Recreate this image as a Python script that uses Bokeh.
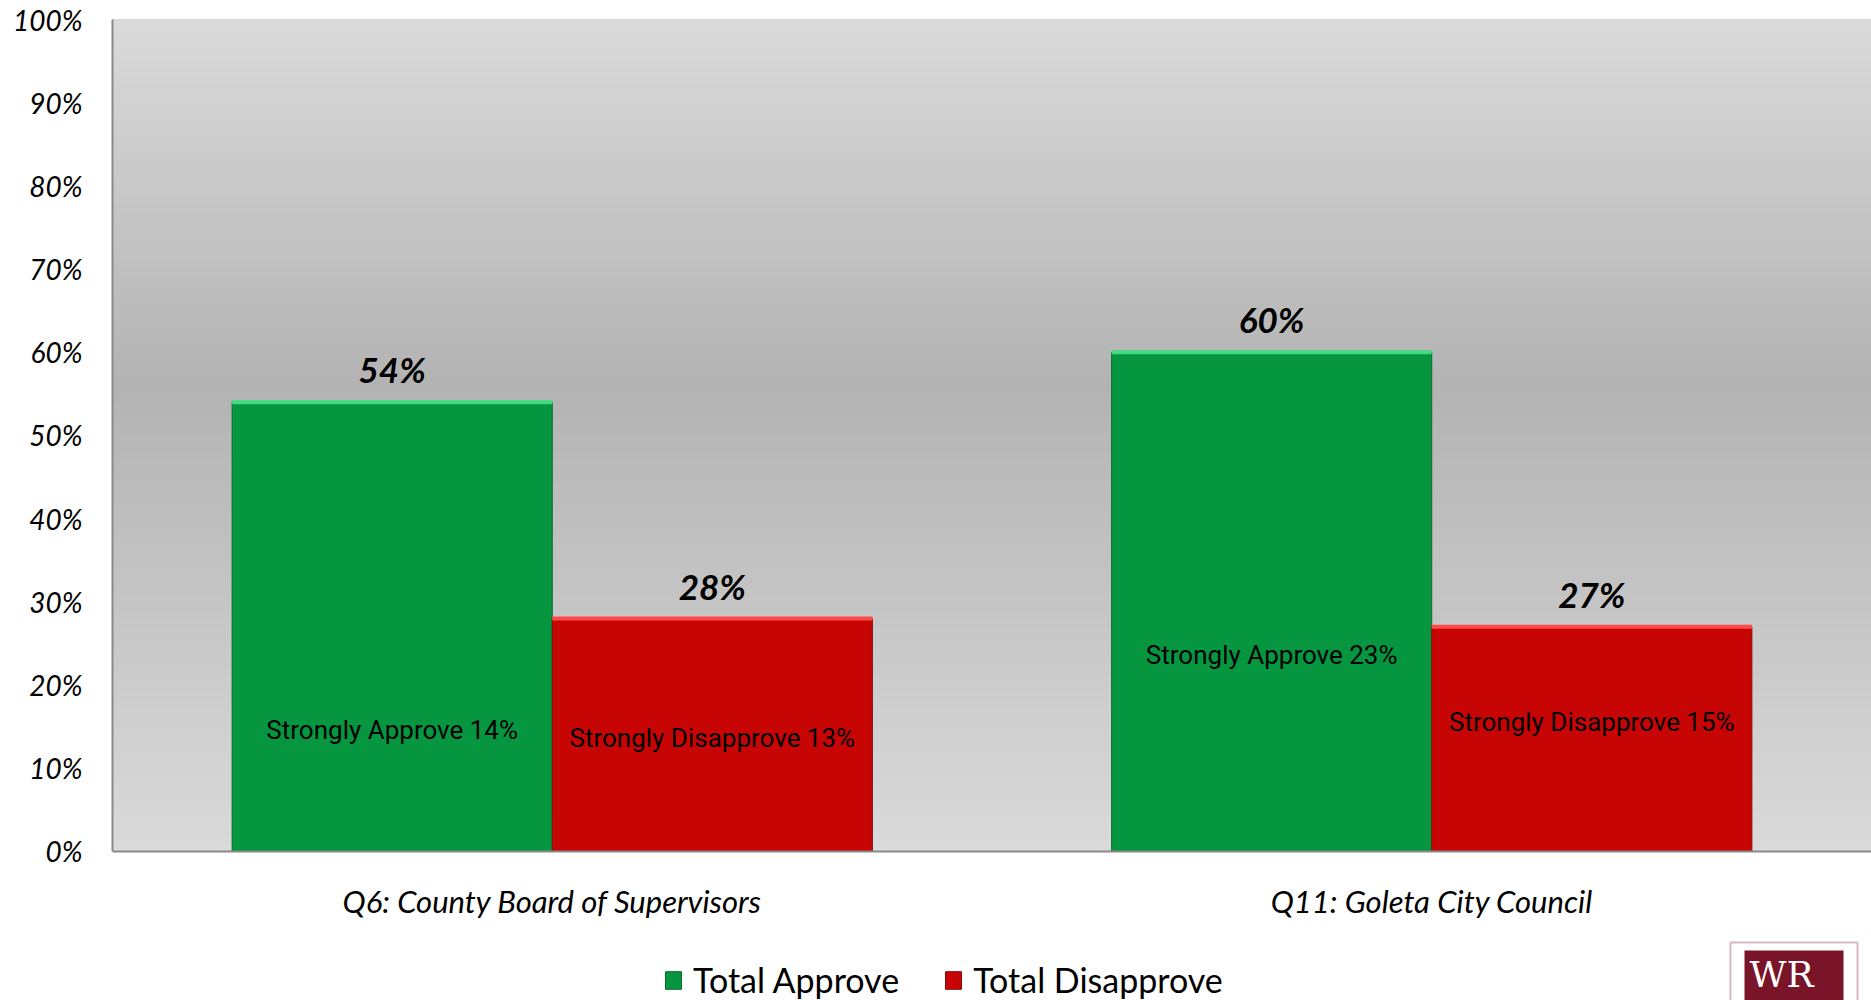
from bokeh.plotting import figure
from bokeh.models import (FactorRange, Range1d, BoxAnnotation, Legend, LegendItem,
                          Label, FixedTicker, ColumnDataSource, Span)
from bokeh.transform import dodge
from bokeh.core.properties import value
from bokeh.embed import file_html
from bokeh.resources import INLINE

# ---- data ----
categories = ["Q6: County Board of Supervisors", "Q11: Goleta City Council"]
total_approve = [54, 60]
total_disapprove = [28, 27]
strongly_approve = [14, 23]
strongly_disapprove = [13, 15]
series_names = ["Total Approve", "Total Disapprove"]
y_ticks = [0, 10, 20, 30, 40, 50, 60, 70, 80, 90, 100]
y_tick_labels = [f"{t}%" for t in y_ticks]

GREEN = "#06963F"
RED = "#C80505"

src = ColumnDataSource(dict(
    cat=categories,
    base=[0 for _ in categories],
    approve=total_approve,
    disapprove=total_disapprove,
    approve_lbl=[f"{v}%" for v in total_approve],
    disapprove_lbl=[f"{v}%" for v in total_disapprove],
    s_app_lbl=[f"Strongly Approve {v}%" for v in strongly_approve],
    s_dis_lbl=[f"Strongly Disapprove {v}%" for v in strongly_disapprove],
    s_app_pos=[v + 0.6 for v in strongly_approve],
    s_dis_pos=[v + 0.6 for v in strongly_disapprove],
))

# frame spans from the 100% line (y 19) to the figure bottom; 8.32 px per %
p = figure(x_range=FactorRange(*categories), y_range=Range1d(-17.91, 100),
           width=1871, height=1000, output_backend="svg", toolbar_location=None,
           min_border_left=112, min_border_right=0, min_border_top=19,
           min_border_bottom=0)
p.outline_line_color = None
p.background_fill_color = "white"
p.border_fill_color = "white"
p.xgrid.visible = False
p.ygrid.visible = False
p.xaxis.visible = False

# gradient plot-area background (styling only), overlapping bands to avoid seams
nb = 100
mid = 0.56
for i in range(nb):
    t = (i + 0.5) / nb
    d = abs(t - mid) / (mid if t < mid else 1 - mid)
    g = int(round(0xb3 + (0xda - 0xb3) * min(d, 1.0)))
    col = "#%02x%02x%02x" % (g, g, g)
    p.add_layout(BoxAnnotation(bottom=100 * i / nb, top=100,
                               fill_color=col, fill_alpha=1, line_color=None,
                               level="underlay"))

w = 0.364
r1 = p.vbar(x=dodge("cat", -w / 2, range=p.x_range), top="approve", width=w,
            source=src, fill_color=GREEN, line_color="#0b6b30", line_width=1)
r2 = p.vbar(x=dodge("cat", w / 2, range=p.x_range), top="disapprove", width=w,
            source=src, fill_color=RED, line_color="#8a0b0b", line_width=1)

# light bevel along bar tops
p.vbar(x=dodge("cat", -w / 2, range=p.x_range), top="approve", bottom="approve",
       width=w, source=src, line_color="#3fdc80", line_width=4)
p.vbar(x=dodge("cat", w / 2, range=p.x_range), top="disapprove", bottom="disapprove",
       width=w, source=src, line_color="#ff4a4a", line_width=4)

# baseline (0%) axis line
p.add_layout(Span(location=0, dimension="width", line_color="#8a8a8a", line_width=2))

# value labels above bars
for field, lbl, off in [("approve", "approve_lbl", -w / 2), ("disapprove", "disapprove_lbl", w / 2)]:
    p.text(x=dodge("cat", off, range=p.x_range), y=field, text=lbl, source=src,
           text_align="center", text_baseline="bottom", y_offset=-12,
           text_font=value("Lato"), text_font_style="bold italic",
           text_font_size="35px", text_color="black")

# strongly labels inside bars
p.text(x=dodge("cat", -w / 2, range=p.x_range), y="s_app_pos", text="s_app_lbl", source=src,
       text_align="center", text_baseline="middle",
       text_font=value("Roboto"), text_font_size="26px", text_color="black")
p.text(x=dodge("cat", w / 2, range=p.x_range), y="s_dis_pos", text="s_dis_lbl", source=src,
       text_align="center", text_baseline="middle",
       text_font=value("Roboto"), text_font_size="26px", text_color="black")

# category labels (x axis)
p.text(x="cat", y="base", text="cat", source=src, text_align="center",
       text_baseline="middle", y_offset=50, text_font=value("Lato"),
       text_font_style="italic", text_font_size="31px", text_color="black")

# y axis
ya = p.yaxis[0]
ya.bounds = (0, 100)
ya.ticker = FixedTicker(ticks=y_ticks)
ya.major_label_overrides = {t: l for t, l in zip(y_ticks, y_tick_labels)}
ya.major_label_text_font = "Lato"
ya.major_label_text_font_style = "italic"
ya.major_label_text_font_size = "28px"
ya.major_label_text_color = "black"
ya.major_label_standoff = 30
ya.major_tick_out = 0
ya.major_tick_in = 0
ya.minor_tick_out = 0
ya.minor_tick_in = 0
ya.axis_line_color = "#8a8a8a"
ya.axis_line_width = 2

legend = Legend(items=[LegendItem(label=series_names[0], renderers=[r1]),
                       LegendItem(label=series_names[1], renderers=[r2])],
                orientation="horizontal", location=(551, 0),
                label_text_font="Lato",
                label_text_font_size="34px", label_text_color="black",
                glyph_width=20, glyph_height=22, label_standoff=10, spacing=44,
                padding=0, margin=0, border_line_color=None,
                background_fill_alpha=0)
p.add_layout(legend, "center")

# logo (bottom right, partly cut off by the image edge)
p.add_layout(BoxAnnotation(left=1618, right=1745, bottom=-20, top=58,
                           left_units="screen", right_units="screen",
                           bottom_units="screen", top_units="screen",
                           fill_color="white", fill_alpha=1,
                           line_color="#7a1428", line_width=2))
p.add_layout(BoxAnnotation(left=1632, right=1731, bottom=-20, top=50,
                           left_units="screen", right_units="screen",
                           bottom_units="screen", top_units="screen",
                           fill_color="#7a1428", fill_alpha=1, line_color=None))
p.add_layout(Label(x=1637, y=47, x_units="screen", y_units="screen", text="WR",
                   text_font="DejaVu Serif", text_font_size="36px", text_color="white",
                   text_baseline="top"))

open("out.html", "w").write(file_html(p, INLINE))
